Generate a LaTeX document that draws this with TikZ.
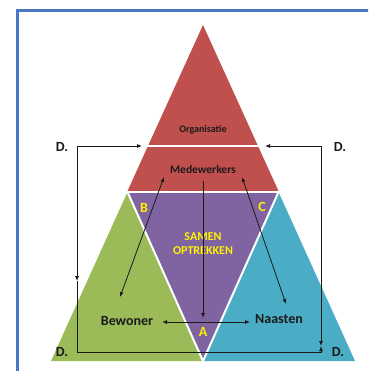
\documentclass[tikz,border=0pt]{standalone}
\usepackage{fontspec}
\setmainfont{Carlito}
\usetikzlibrary{arrows.meta}
\definecolor{cred}{HTML}{C0504D}
\definecolor{cpurple}{HTML}{8064A2}
\definecolor{cgreen}{HTML}{9BBB59}
\definecolor{cblue}{HTML}{4BACC6}
\definecolor{cframe}{HTML}{4A78C6}
\definecolor{cyel}{HTML}{FFF200}
\definecolor{ctext}{HTML}{1A1A1A}
\tikzset{
  lbl/.style={font=\bfseries\fontsize{14}{16}\selectfont, text=ctext, inner sep=0pt},
  ylbl/.style={font=\bfseries\fontsize{14}{16}\selectfont, text=cyel, inner sep=0pt},
  conn/.style={draw=ctext, line width=0.8pt, >={Latex[length=5pt,width=4pt]}},
  sep/.style={draw=white, line width=2pt}
}
\begin{document}
\begin{tikzpicture}[x=1pt,y=-1pt]
\useasboundingbox (0,0) rectangle (368,371);
\fill[white] (0,0) rectangle (368,371);
\begin{scope}
\clip (0,0) rectangle (368,371);
\draw[cframe, line width=2.5pt] (17.5,10.5) rectangle (400,400);
\end{scope}
% shapes
\coordinate (gA) at (127.5,192);
\coordinate (bA) at (278.5,192);
\coordinate (pA) at (203,361);
\fill[cgreen] (gA) -- (51,361) -- (pA) -- cycle;
\fill[cblue] (bA) -- (355,361) -- (pA) -- cycle;
\fill[cpurple] (gA) -- (bA) -- (pA) -- cycle;
\draw[sep] (gA) -- (pA) -- (bA);
\fill[cred] (203,25) -- (278.5,191) -- (127.5,191) -- cycle;
\draw[sep] (120,146) -- (290,146);
\draw[sep] (120,192) -- (290,192);
% texts
\node[lbl, font=\bfseries\fontsize{10}{12}\selectfont] (org) at (203,130) {Organisatie};
\node[lbl, font=\bfseries\fontsize{11.5}{13}\selectfont] (med) at (203,170) {Medewerkers};
\node[ylbl] (B) at (144,208) {B};
\node[ylbl] (C) at (262,207) {C};
\node[ylbl, font=\bfseries\fontsize{12}{14}\selectfont] (samen) at (203,237) {SAMEN};
\node[ylbl, font=\bfseries\fontsize{12}{14}\selectfont] (opt) at (203,251) {OPTREKKEN};
\node[ylbl] (A) at (203,332) {A};
\node[lbl] (bew) at (127,321) {Bewoner};
\node[lbl] (naa) at (279,319) {Naasten};
\node[lbl] (d1) at (62,147) {D.};
\node[lbl] (d2) at (340,147) {D.};
\node[lbl] (d3) at (62,352) {D.};
\node[lbl] (d4) at (338,352) {D.};
% connector points
\coordinate (mL) at (164,177);
\coordinate (bT) at (120,297);
\coordinate (mR) at (242,177);
\coordinate (nT) at (286,304);
\coordinate (mC) at (203,181);
\coordinate (aT) at (203,318);
\coordinate (bR) at (162,322);
\coordinate (nL) at (250,322);
\coordinate (Lt) at (142,146);
\coordinate (L1) at (77,146);
\coordinate (Lm) at (77,281);
\coordinate (L2) at (77,352);
\coordinate (Rb) at (321,352);
\coordinate (Rm) at (321,346);
\coordinate (Rt) at (265,146);
\coordinate (R1) at (321,146);
% connectors
\draw[conn,<->] (mL) -- (bT);
\draw[conn,<->] (mR) -- (nT);
\draw[conn,->] (mC) -- (aT);
\draw[conn,<->] (bR) -- (nL);
\draw[conn,<->] (Lt) -- (L1) -- (Lm);
\draw[conn,->] (Lm) -- (L2) -- (Rb) -- (Rm);
\draw[conn,<->] (Rt) -- (R1) -- (Rm);
\end{tikzpicture}
\end{document}
